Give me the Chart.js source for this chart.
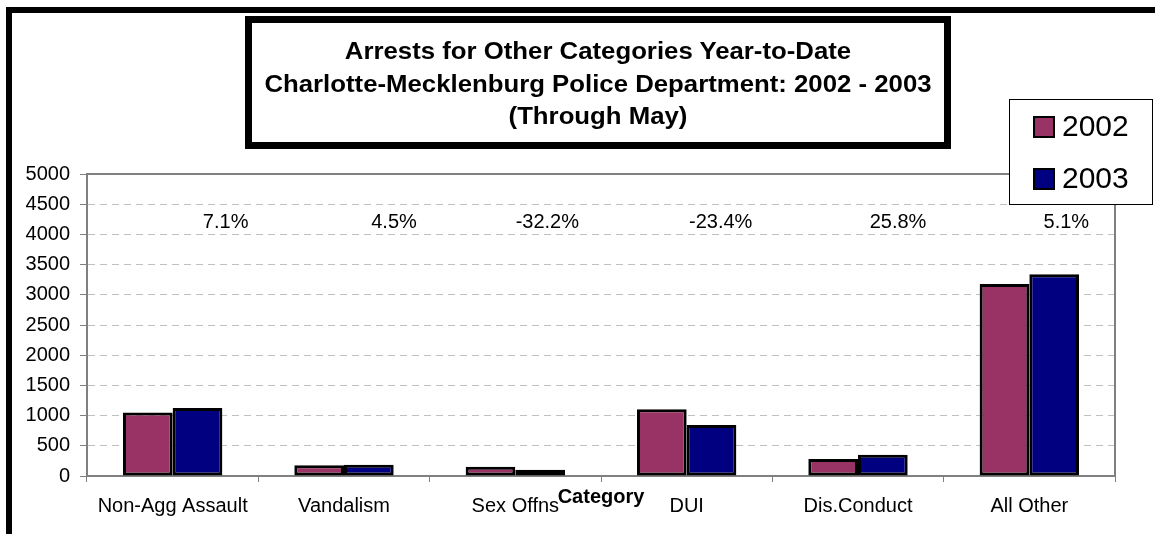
<!DOCTYPE html>
<html>
<head>
<meta charset="utf-8">
<script src="https://cdn.jsdelivr.net/npm/chart.js@4.4.1/dist/chart.umd.min.js"></script>
<style>
    html, body { margin: 0; padding: 0; background: #fff; overflow: hidden; }
    #wrap { position: relative; width: 1155px; height: 534px; overflow: hidden; }
    #frame { position: absolute; left: 6px; top: 7px; width: 1200px; height: 600px; border: 6px solid #000; box-sizing: border-box; }
    #chart { position: absolute; left: 0; top: 0; }
    #titleBox {
        position: absolute; left: 245px; top: 16px; width: 706px; height: 133px;
        border: 7px solid #000; box-sizing: border-box; background: #fff;
        text-align: center; font: bold 23px 'Liberation Sans', Arial, sans-serif;
        line-height: 32.5px; padding-top: 12px; color: #000;
    }
    #titleBox div { transform: scaleX(1.12); white-space: nowrap; }
</style>
</head>
<body>
<div id="wrap">
    <div id="frame"></div>
    <canvas id="chart" width="1155" height="534"></canvas>
    <div id="titleBox">
        <div>Arrests for Other Categories Year-to-Date</div>
        <div>Charlotte-Mecklenburg Police Department: 2002 - 2003</div>
        <div>(Through May)</div>
    </div>
</div>
<script>
// data
const categories = ['Non-Agg Assault', 'Vandalism', 'Sex Offns', 'DUI', 'Dis.Conduct', 'All Other'];
const arrests2002 = [1050, 180, 155, 1105, 280, 3180];
const arrests2003 = [1125, 188, 105, 846, 352, 3342];
const pctChange = ['7.1%', '4.5%', '-32.2%', '-23.4%', '25.8%', '5.1%'];
const seriesLabels = ['2002', '2003'];
const yMin = 0;
const yMax = 5000;
const yStep = 500;

const COLORS = {
    s2002: '#993366',
    s2003: '#000080',
    axis: '#808080',
    grid: '#c0c0c0'
};
const FONT = "'Liberation Sans', Arial, sans-serif";

// gray frame around the plot area (left, top, right)
const plotFrame = {
    id: 'plotFrame',
    beforeDatasetsDraw(chart) {
        const { ctx, chartArea: a } = chart;
        ctx.save();
        ctx.strokeStyle = COLORS.axis;
        ctx.lineWidth = 2;
        ctx.beginPath();
        ctx.moveTo(a.left, a.bottom);
        ctx.lineTo(a.left, a.top);
        ctx.lineTo(a.right, a.top);
        ctx.lineTo(a.right, a.bottom);
        ctx.stroke();
        ctx.restore();
    }
};

// percent change labels floating above each group
const pctLabels = {
    id: 'pctLabels',
    afterDatasetsDraw(chart, args, opts) {
        const { ctx, scales } = chart;
        ctx.save();
        ctx.font = '20px ' + FONT;
        ctx.fillStyle = '#000';
        ctx.textAlign = 'center';
        ctx.textBaseline = 'middle';
        pctChange.forEach((txt, i) => {
            const x = scales.x.getPixelForValue(i) + opts.offsets[i];
            const y = scales.y.getPixelForValue(opts.level);
            ctx.fillText(txt, x, y);
        });
        ctx.restore();
    }
};

// "Category" axis title, sits on top of the tick labels like in the original
const axisTitle = {
    id: 'axisTitle',
    afterDraw(chart, args, opts) {
        const { ctx, chartArea: a } = chart;
        ctx.save();
        ctx.font = 'bold 20px ' + FONT;
        ctx.fillStyle = '#000';
        ctx.textAlign = 'center';
        ctx.textBaseline = 'middle';
        ctx.fillText(opts.text, (a.left + a.right) / 2, opts.y);
        ctx.restore();
    }
};

// boxed legend at the top right
const boxLegend = {
    id: 'boxLegend',
    afterDraw(chart, args, opts) {
        const { ctx } = chart;
        ctx.save();
        ctx.fillStyle = '#fff';
        ctx.strokeStyle = '#000';
        ctx.lineWidth = 1;
        ctx.fillRect(opts.x, opts.y, opts.w, opts.h);
        ctx.strokeRect(opts.x + 0.5, opts.y + 0.5, opts.w - 1, opts.h - 1);
        ctx.font = '30px ' + FONT;
        ctx.textBaseline = 'middle';
        ctx.textAlign = 'left';
        chart.data.datasets.forEach((ds, i) => {
            const cy = opts.y + opts.firstRow + i * opts.rowGap;
            ctx.fillStyle = ds.backgroundColor;
            ctx.fillRect(opts.x + 25, cy - 10, 20, 20);
            ctx.lineWidth = 2;
            ctx.strokeRect(opts.x + 25, cy - 10, 20, 20);
            ctx.fillStyle = '#000';
            ctx.fillText(ds.label, opts.x + 53, cy + 1);
        });
        ctx.restore();
    }
};

function crearGrafico() {
    const ctx = document.getElementById('chart');

    new Chart(ctx, {
        type: 'bar',
        data: {
            labels: categories,
            datasets: [
                { label: seriesLabels[0], data: arrests2002, backgroundColor: COLORS.s2002 },
                { label: seriesLabels[1], data: arrests2003, backgroundColor: COLORS.s2003 }
            ]
        },
        options: {
            responsive: false,
            devicePixelRatio: 1,
            animation: false,
            layout: { padding: { left: 10, top: 174, right: 40, bottom: 0 } },
            datasets: {
                bar: {
                    borderColor: '#000',
                    borderWidth: 3,
                    borderSkipped: false,
                    categoryPercentage: 0.58,
                    barPercentage: 1.0
                }
            },
            scales: {
                x: {
                    afterFit: s => { s.height = 58; },
                    grid: { display: true, drawOnChartArea: false, offset: true, tickLength: 6, tickColor: COLORS.axis },
                    border: { color: COLORS.axis, width: 2 },
                    ticks: { font: { family: FONT, size: 20 }, color: '#000', padding: 12, maxRotation: 0 }
                },
                y: {
                    min: yMin,
                    max: yMax,
                    afterFit: s => { s.width = 77; },
                    grid: { color: COLORS.grid, tickLength: 7, tickColor: COLORS.axis },
                    border: { color: COLORS.axis, width: 2, dash: [7, 5] },
                    ticks: {
                        stepSize: yStep,
                        font: { family: FONT, size: 20 },
                        color: '#000',
                        padding: 10,
                        callback: value => String(value)
                    }
                }
            },
            plugins: {
                legend: { display: false },
                tooltip: { enabled: false },
                pctLabels: { level: 4200, offsets: [53, 50, 32, 34, 40, 37] },
                axisTitle: { text: 'Category', y: 497 },
                boxLegend: { x: 1009, y: 99, w: 144, h: 106, firstRow: 28, rowGap: 52 }
            }
        },
        plugins: [plotFrame, pctLabels, axisTitle, boxLegend]
    });
}

document.addEventListener('DOMContentLoaded', function() {
    crearGrafico();
});
</script>
</body>
</html>
